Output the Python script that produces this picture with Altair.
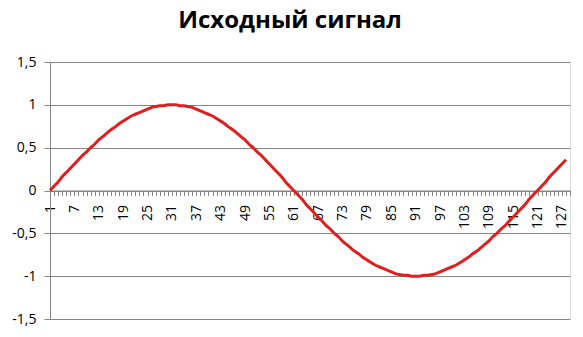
import altair as alt
import pandas as pd

title_text = "Исходный сигнал"

categories = list(range(1, 129))

values = [
    0.00, 0.05, 0.10, 0.16, 0.21, 0.26, 0.31, 0.36, 0.41, 0.45,
    0.50, 0.54, 0.59, 0.63, 0.67, 0.71, 0.74, 0.78, 0.81, 0.84,
    0.87, 0.89, 0.91, 0.93, 0.95, 0.97, 0.98, 0.99, 0.99, 1.00,
    1.00, 1.00, 0.99, 0.99, 0.98, 0.97, 0.95, 0.93, 0.91, 0.89,
    0.87, 0.84, 0.81, 0.78, 0.74, 0.71, 0.67, 0.63, 0.59, 0.54,
    0.50, 0.45, 0.41, 0.36, 0.31, 0.26, 0.21, 0.16, 0.10, 0.05,
    0.00, -0.05, -0.10, -0.16, -0.21, -0.26, -0.31, -0.36, -0.41, -0.45,
    -0.50, -0.54, -0.59, -0.63, -0.67, -0.71, -0.74, -0.78, -0.81, -0.84,
    -0.87, -0.89, -0.91, -0.93, -0.95, -0.97, -0.98, -0.99, -0.99, -1.00,
    -1.00, -1.00, -0.99, -0.99, -0.98, -0.97, -0.95, -0.93, -0.91, -0.89,
    -0.87, -0.84, -0.81, -0.78, -0.74, -0.71, -0.67, -0.63, -0.59, -0.54,
    -0.50, -0.45, -0.41, -0.36, -0.31, -0.26, -0.21, -0.16, -0.10, -0.05,
    0.00, 0.05, 0.10, 0.16, 0.21, 0.26, 0.31, 0.36,
]

x_ticks = list(range(1, 130))
y_ticks = [-1.5, -1.0, -0.5, 0.0, 0.5, 1.0, 1.5]

df = pd.DataFrame({"x": categories, "y": values})

GRAY = "#868686"
FONT = "Open Sans"

chart = (
    alt.Chart(df)
    .mark_line(color="#e01e1e", strokeWidth=3, interpolate="monotone")
    .encode(
        x=alt.X(
            "x:Q",
            scale=alt.Scale(domain=[1, 129], nice=False, zero=False),
            axis=alt.Axis(
                values=x_ticks,
                labelExpr="(datum.value - 1) % 6 == 0 && datum.value < 129 ? datum.label : ''",
                labelAngle=270,
                labelAlign="right",
                labelBaseline="middle",
                labelPadding=9,
                labelOverlap=False,
                labelFlush=False,
                labelFont=FONT,
                labelFontSize=14,
                labelColor="#000000",
                tickSize=5,
                tickColor=GRAY,
                domainColor=GRAY,
                grid=False,
                offset=-128.5,
                title=None,
            ),
        ),
        y=alt.Y(
            "y:Q",
            scale=alt.Scale(domain=[-1.5, 1.5], nice=False),
            axis=alt.Axis(
                values=y_ticks,
                labelExpr="replace(toString(datum.value), '.', ',')",
                labelFont=FONT,
                labelFontSize=14,
                labelColor="#000000",
                labelPadding=8,
                tickSize=6,
                tickColor=GRAY,
                domainColor=GRAY,
                gridColor=GRAY,
                gridWidth=1,
                title=None,
            ),
        ),
    )
    .properties(
        width=520,
        height=257,
        autosize=alt.AutoSizeParams(type="none"),
        padding={"left": 50, "top": 62, "right": 13, "bottom": 18},
        title=alt.TitleParams(
            text=title_text,
            font=FONT,
            fontSize=24,
            fontWeight="bold",
            color="#000000",
            anchor="middle",
            frame="group",
            dx=-20,
            offset=22,
        ),
    )
    .configure_view(stroke=None)
    .configure(background="white")
)

chart.save("out.html", embed_options={"renderer": "svg", "actions": False})
